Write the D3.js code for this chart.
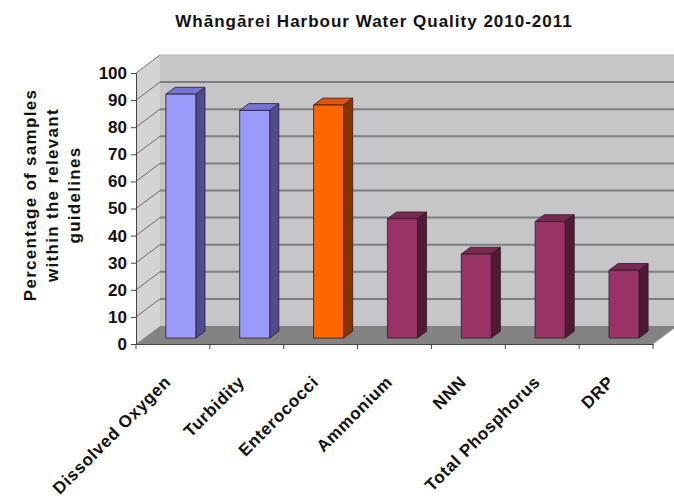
<!DOCTYPE html>
<html>
<head>
<meta charset="utf-8">
<script src="https://cdn.jsdelivr.net/npm/d3@7"></script>
<style>
  html, body { margin: 0; padding: 0; background: #fff; }
  svg { display: block; }
  text { font-family: "Liberation Sans", Arial, sans-serif; font-weight: bold; fill: #111; }
</style>
</head>
<body>
<div id="chart"></div>
<script>
// Share of samples meeting the relevant guidelines, per indicator
const categories = ["Dissolved Oxygen", "Turbidity", "Enterococci", "Ammonium", "NNN", "Total Phosphorus", "DRP"];
const values = [90, 84, 86, 44, 31, 43, 25];
const groups = ["physical", "physical", "bacteria", "nutrient", "nutrient", "nutrient", "nutrient"];
const yTicks = [0, 10, 20, 30, 40, 50, 60, 70, 80, 90, 100];
const title = "Whāngārei Harbour Water Quality 2010-2011";
const yTitle = ["Percentage of samples", "within the relevant", "guidelines"];

const W = 674, H = 502;
const palette = {
  physical: { front: "#9A9AFA", side: "#4C4C8E", top: "#7474D6" },
  bacteria: { front: "#FF6600", side: "#873500", top: "#E05500" },
  nutrient: { front: "#993366", side: "#4E1A34", top: "#7A2850" }
};

const svg = d3.select("#chart").append("svg").attr("width", W).attr("height", H);

// front plane scales
const x = d3.scaleBand().domain(categories).range([136, 653]).paddingInner(0.594).paddingOuter(0.297);
const xc = d3.scaleBand().domain(categories).range([136, 653]);
const y = d3.scaleLinear().domain([0, 100]).range([344, 73]);

// oblique depth offset (d: 0 = front, 1 = back wall)
const DX = 24, DY = -18;
const P = (px, v, d) => [px + DX * d, y(v) + DY * d];
const poly = pts => "M" + pts.map(p => p.join(",")).join("L") + "Z";

const xl = 136, xr = 653, wallRight = xr + DX;

// walls and floor
svg.append("path").attr("d", poly([P(xl, 0, 0), P(xl, 100, 0), P(xl, 100, 1), P(xl, 0, 1)]))
  .attr("fill", "#D4D4D4");
svg.append("path").attr("d", poly([P(xl, 100, 1), [wallRight + 10, y(100) + DY], [wallRight + 10, y(0) + DY], P(xl, 0, 1)]))
  .attr("fill", "#C6C6C8");
svg.append("path").attr("d", poly([P(xl, 0, 0), P(xr, 0, 0), P(xr, 0, 1), P(xl, 0, 1)]))
  .attr("fill", "#838383");

// gridlines on back wall + side wall
const grid = svg.append("g");
yTicks.filter(t => t > 0).forEach(t => {
  grid.append("line")
    .attr("x1", P(xl, t, 1)[0]).attr("y1", P(xl, t, 1)[1])
    .attr("x2", wallRight + 10).attr("y2", P(xl, t, 1)[1])
    .attr("stroke", t === 100 ? "#B5B5B5" : "#7E7E7E").attr("stroke-width", t === 100 ? 1 : 2);
  grid.append("line")
    .attr("x1", P(xl, t, 0)[0]).attr("y1", P(xl, t, 0)[1])
    .attr("x2", P(xl, t, 1)[0]).attr("y2", P(xl, t, 1)[1])
    .attr("stroke", "#6A6A6A").attr("stroke-width", 1);
});
// side wall top edge
svg.append("line")
  .attr("x1", P(xl, 100, 0)[0]).attr("y1", P(xl, 100, 0)[1])
  .attr("x2", P(xl, 100, 1)[0]).attr("y2", P(xl, 100, 1)[1])
  .attr("stroke", "#9A9A9A").attr("stroke-width", 1);
// floor right edge
svg.append("line")
  .attr("x1", P(xr, 0, 0)[0]).attr("y1", P(xr, 0, 0)[1])
  .attr("x2", P(xr, 0, 1)[0]).attr("y2", P(xr, 0, 1)[1])
  .attr("stroke", "#A8A8A8").attr("stroke-width", 1);

// bars
const d0 = 0.33, d1 = 0.71;
const bars = svg.append("g").selectAll("g").data(categories).join("g");
bars.each(function (c, i) {
  const g = d3.select(this);
  const v = values[i], col = palette[groups[i]];
  const a = x(c), b = x(c) + x.bandwidth();
  g.append("path").attr("d", poly([P(b, 0, d0), P(b, v, d0), P(b, v, d1), P(b, 0, d1)]))
    .attr("fill", col.side).attr("stroke", "#2a1a2a").attr("stroke-width", 0.8).attr("stroke-linejoin", "round");
  g.append("path").attr("d", poly([P(a, v, d0), P(b, v, d0), P(b, v, d1), P(a, v, d1)]))
    .attr("fill", col.top).attr("stroke", "#2a1a2a").attr("stroke-width", 0.8).attr("stroke-linejoin", "round");
  g.append("path").attr("d", poly([P(a, 0, d0), P(b, 0, d0), P(b, v, d0), P(a, v, d0)]))
    .attr("fill", col.front).attr("stroke", "#2a1a2a").attr("stroke-width", 0.8).attr("stroke-linejoin", "round");
});

// value axis
const yAxis = svg.append("g").attr("transform", `translate(${xl},0)`)
  .call(d3.axisLeft(y).tickValues(yTicks).tickSize(5).tickPadding(4));
yAxis.select(".domain").attr("stroke", "#444").attr("stroke-width", 1);
yAxis.selectAll(".tick line").attr("stroke", "#444");
yAxis.selectAll(".tick text").style("font-size", "17px").style("font-family", "Liberation Sans, Arial, sans-serif")
  .style("font-weight", "bold").attr("fill", "#111");

// category axis
const xAxis = svg.append("g").attr("transform", `translate(0,${y(0)})`)
  .call(d3.axisBottom(xc).tickSize(0).tickFormat(""));
xAxis.select(".domain").attr("stroke", "#444");
xAxis.selectAll(".tick").remove();
xAxis.selectAll(".sep").data(d3.range(categories.length + 1)).join("line")
  .attr("x1", i => 136 + i * xc.step()).attr("x2", i => 136 + i * xc.step())
  .attr("y1", 0).attr("y2", 5).attr("stroke", "#444");

svg.append("g").selectAll("text").data(categories).join("text")
  .attr("transform", c => `translate(${xc(c) + xc.bandwidth() / 2 - 1},${y(0) + 39}) rotate(-45)`)
  .attr("text-anchor", "end")
  .style("font-size", "17px").style("letter-spacing", "0.7px")
  .text(c => c);

// titles
svg.append("text").attr("x", 374).attr("y", 27).attr("text-anchor", "middle")
  .style("font-size", "17px").style("letter-spacing", "1px").text(title);

svg.append("g").attr("transform", "translate(0,195)")
  .selectAll("text").data(yTitle).join("text")
  .attr("transform", (d, i) => `translate(${36 + i * 22},0) rotate(-90)`)
  .attr("text-anchor", "middle")
  .style("font-size", "17px").style("letter-spacing", "1.3px")
  .text(d => d);
</script>
</body>
</html>
